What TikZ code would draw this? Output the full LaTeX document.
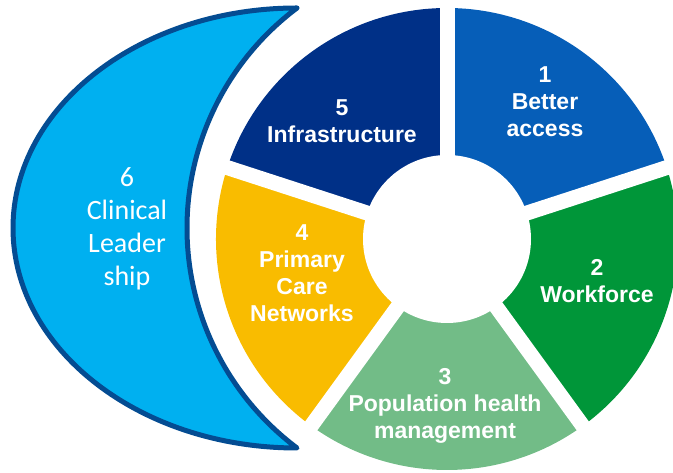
\documentclass[tikz,border=0pt]{standalone}
\usepackage{fontspec}
\setmainfont{Liberation Sans}
\newfontfamily\calibri{Carlito}
\definecolor{accessblue}{RGB}{6,94,184}
\definecolor{workgreen}{RGB}{0,150,57}
\definecolor{popgreen}{RGB}{114,188,135}
\definecolor{pcnyellow}{RGB}{249,188,0}
\definecolor{infranavy}{RGB}{0,48,135}
\definecolor{moonfill}{RGB}{0,176,240}
\definecolor{moonedge}{RGB}{4,76,146}
\begin{document}
\begin{tikzpicture}[x=1pt,y=1pt,
    seglabel/.style={text=white, font=\fontsize{23}{27}\selectfont\bfseries, align=center},
    moonlabel/.style={text=white, font=\calibri\fontsize{28}{33}\selectfont, align=center}]
    \useasboundingbox (0,0) rectangle (673,473);
    % crescent on the left
    \draw[line width=5, draw=moonedge, fill=moonfill, line join=round]
        (297,465) arc[start angle=90, end angle=270, x radius=284, y radius=220]
        arc[start angle=233.13, end angle=126.87, radius=275] -- cycle;
    \node[moonlabel] (leader) at (127,244) {6\\Clinical\\Leader\\ship};
    % the wheel
    \coordinate (hub) at (447,234);
    \fill[accessblue] (hub) -- ++(90:231) arc[start angle=90, end angle=18, radius=231] -- cycle;
    \fill[workgreen] (hub) -- ++(18:231) arc[start angle=18, end angle=-54, radius=231] -- cycle;
    \fill[popgreen] (hub) -- ++(-54:231) arc[start angle=-54, end angle=-126, radius=231] -- cycle;
    \fill[pcnyellow] (hub) -- ++(-126:231) arc[start angle=-126, end angle=-198, radius=231] -- cycle;
    \fill[infranavy] (hub) -- ++(162:231) arc[start angle=162, end angle=90, radius=231] -- cycle;
    % white gaps and centre
    \foreach \a in {90,18,-54,-126,162}
        \draw[white, line width=15] (hub) -- ++(\a:234);
    \fill[white] (hub) circle (84);
    % labels
    \node[seglabel] (access) at (545,371) {1\\Better\\access};
    \node[seglabel] (workforce) at (597,192) {2\\Workforce};
    \node[seglabel] (population) at (445,67) {3\\Population health\\management};
    \node[seglabel] (pcn) at (302,200) {4\\Primary\\Care\\Networks};
    \node[seglabel] (infra) at (342,352) {5\\Infrastructure};
\end{tikzpicture}
\end{document}
